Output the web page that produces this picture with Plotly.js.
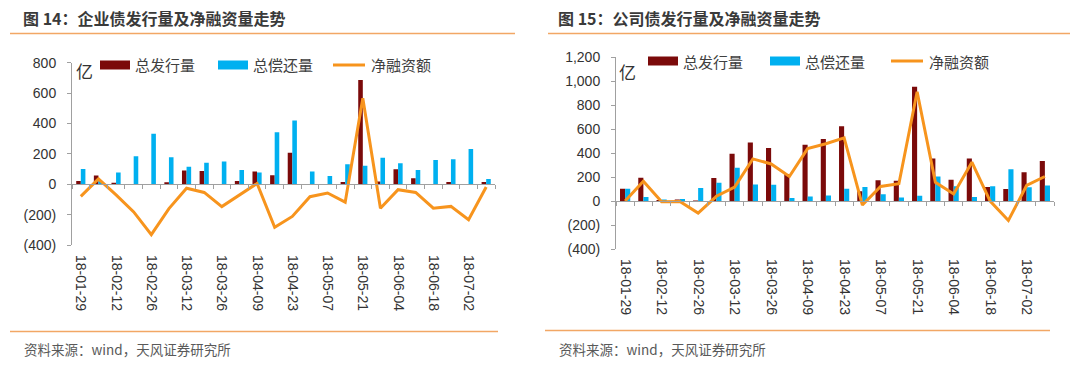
<!DOCTYPE html>
<html><head><meta charset="utf-8">
<script src="https://cdn.plot.ly/plotly-3.0.1.min.js"></script>
<style>html,body{margin:0;padding:0;background:#fff;} #chart{width:1080px;height:369px;}</style>
</head><body><div id="chart"></div>
<script>
// ---- data (weekly, 亿元) ----
const weeks = ['18-01-29','18-02-05','18-02-12','18-02-19','18-02-26','18-03-05','18-03-12','18-03-19',
  '18-03-26','18-04-02','18-04-09','18-04-16','18-04-23','18-04-30','18-05-07','18-05-14',
  '18-05-21','18-05-28','18-06-04','18-06-11','18-06-18','18-06-25','18-07-02','18-07-09'];
const tickWeeks = ['18-01-29','18-02-12','18-02-26','18-03-12','18-03-26','18-04-09',
  '18-04-23','18-05-07','18-05-21','18-06-04','18-06-18','18-07-02'];

// 图14 企业债
const corpIssue = [22, 57, 9, 0, 0, 13, 91, 87, 0, 22, 83, 59, 208, 0, 0, 15, 686, 18, 99, 39, 0, 15, 0, 15];
const corpRepay = [100, 22, 78, 185, 333, 178, 115, 141, 149, 94, 77, 342, 419, 83, 55, 132, 121, 175, 138, 94, 160, 164, 232, 35];
const corpNet   = [-80, 35, -70, -182, -332, -160, -26, -54, -147, -72, 5, -283, -212, -82, -58, -118, 566, -158, -36, -54, -158, -146, -234, -18];

// 图15 公司债
const compIssue = [103, 195, 8, 14, 5, 192, 396, 488, 443, 225, 471, 519, 625, 81, 173, 170, 955, 355, 179, 355, 117, 100, 240, 335];
const compRepay = [103, 33, 14, 17, 109, 153, 279, 139, 137, 25, 39, 47, 103, 117, 56, 30, 45, 205, 123, 35, 123, 265, 115, 131];
const compNet   = [0, 165, -5, -3, -100, 40, 117, 352, 310, 205, 438, 478, 528, -33, 122, 145, 912, 157, 60, 325, 0, -162, 130, 205];

const yTicksL = [-400, -200, 0, 200, 400, 600, 800];
const yTickTextL = ['(400)', '(200)', '0', '200', '400', '600', '800'];
const yTicksR = [-400, -200, 0, 200, 400, 600, 800, 1000, 1200];
const yTickTextR = ['(400)', '(200)', '0', '200', '400', '600', '800', '1,000', '1,200'];

const seriesNames = ['总发行量', '总偿还量', '净融资额'];
const titleL = '图 14：企业债发行量及净融资量走势';
const titleR = '图 15：公司债发行量及净融资量走势';
const sourceText = '资料来源：wind，天风证券研究所';
const unitText = '亿';

// ---- styling ----
const W = 1080, H = 369;
const px = x => x / W, py = y => 1 - y / H;
const RED = '#7B0A0A', BLUE = '#00B0F0', ORANGE = '#F7941D', AXIS = '#A0A0A0', TXT = '#333333';
const SEP = '#F2A765';
const numFont = {family: 'Liberation Sans, Arial, sans-serif', size: 14, color: TXT};
const cjk = 'Noto Sans CJK SC, sans-serif';

const yDomL = [py(245), py(62.7)];
const yDomR = [py(249), py(57.3)];
const zeroL = yDomL[0] + (yDomL[1] - yDomL[0]) * (400 / 1200);
const zeroR = yDomR[0] + (yDomR[1] - yDomR[0]) * (400 / 1600);
const xDomL = [px(72), px(495)];
const xDomR = [px(616), px(1054)];

const bwL = 0.26, bwR = 0.28;
const traces = [
  {type: 'bar', x: weeks, y: corpIssue, name: seriesNames[0], xaxis: 'x', yaxis: 'y',
   marker: {color: RED}, width: bwL, offset: -bwL, showlegend: false, hoverinfo: 'skip'},
  {type: 'bar', x: weeks, y: corpRepay, name: seriesNames[1], xaxis: 'x', yaxis: 'y',
   marker: {color: BLUE}, width: bwL, offset: 0, showlegend: false, hoverinfo: 'skip'},
  {type: 'scatter', mode: 'lines', x: weeks, y: corpNet, name: seriesNames[2], xaxis: 'x2', yaxis: 'y',
   line: {color: ORANGE, width: 3}, showlegend: false, hoverinfo: 'skip'},
  {type: 'bar', x: weeks, y: compIssue, name: seriesNames[0], xaxis: 'x3', yaxis: 'y2',
   marker: {color: RED}, width: bwR, offset: -bwR, showlegend: false, hoverinfo: 'skip'},
  {type: 'bar', x: weeks, y: compRepay, name: seriesNames[1], xaxis: 'x3', yaxis: 'y2',
   marker: {color: BLUE}, width: bwR, offset: 0, showlegend: false, hoverinfo: 'skip'},
  {type: 'scatter', mode: 'lines', x: weeks, y: compNet, name: seriesNames[2], xaxis: 'x4', yaxis: 'y2',
   line: {color: ORANGE, width: 3}, showlegend: false, hoverinfo: 'skip'}
];

function zeroAxis(dom, pos) {
  return {type: 'category', domain: dom, anchor: 'free', position: pos, range: [-0.5, weeks.length - 0.5],
    showline: true, linecolor: AXIS, linewidth: 1, ticks: 'outside', ticklen: 4, tickcolor: AXIS,
    tickson: 'boundaries', tickmode: 'linear', tick0: 0, dtick: 1, showticklabels: false,
    showgrid: false, zeroline: false, fixedrange: true};
}
function labelAxis(base, dom, pos) {
  return {type: 'category', overlaying: base, domain: dom, anchor: 'free', position: pos,
    range: [-0.5, weeks.length - 0.5], showline: false, ticks: '', tickmode: 'array',
    tickvals: tickWeeks, ticktext: tickWeeks, tickangle: 90, tickfont: numFont,
    showgrid: false, zeroline: false, fixedrange: true};
}
function valAxis(anchor, dom, range, vals, text) {
  return {domain: dom, anchor: anchor, range: range, tickmode: 'array', tickvals: vals, ticktext: text,
    showline: true, linecolor: AXIS, linewidth: 1, ticks: 'outside', ticklen: 4, tickcolor: AXIS,
    ticklabelstandoff: 8, tickfont: numFont, showgrid: false, zeroline: false, fixedrange: true};
}

function legendItems(xs, y) {
  const shapes = [
    {type: 'rect', xref: 'paper', yref: 'paper', x0: px(xs[0]), x1: px(xs[0] + 30), y0: py(y + 4.5), y1: py(y - 4.5),
     fillcolor: RED, line: {width: 0}},
    {type: 'rect', xref: 'paper', yref: 'paper', x0: px(xs[1]), x1: px(xs[1] + 30), y0: py(y + 4.5), y1: py(y - 4.5),
     fillcolor: BLUE, line: {width: 0}},
    {type: 'line', xref: 'paper', yref: 'paper', x0: px(xs[2]), x1: px(xs[2] + 32), y0: py(y), y1: py(y),
     line: {color: ORANGE, width: 3}}
  ];
  const offs = [33, 33, 36];
  const anns = seriesNames.map((n, i) => ({xref: 'paper', yref: 'paper', x: px(xs[i] + offs[i]), y: py(y),
    xanchor: 'left', yanchor: 'middle', text: n, showarrow: false,
    font: {family: cjk, size: 15, color: '#404040'}}));
  return {shapes, anns};
}
const legL = legendItems([100, 218, 333], 65);
const legR = legendItems([648, 770, 891], 61);

const sepLines = [[10, 515, 33.5], [10, 498, 331.5], [548, 1070, 33.5], [545, 1050, 330.5]].map(s => ({
  type: 'line', xref: 'paper', yref: 'paper', x0: px(s[0]), x1: px(s[1]), y0: py(s[2]), y1: py(s[2]),
  line: {color: SEP, width: 1.5}}));

const textAnns = [
  {x: px(21), y: py(18), text: '<b>' + titleL + '</b>', font: {family: cjk, size: 16, color: '#3A3A3A'}},
  {x: px(556), y: py(18), text: '<b>' + titleR + '</b>', font: {family: cjk, size: 16, color: '#3A3A3A'}},
  {x: px(22), y: py(349), text: sourceText, font: {family: cjk, size: 13.5, color: '#595959'}},
  {x: px(557), y: py(349), text: sourceText, font: {family: cjk, size: 13.5, color: '#595959'}},
  {x: px(74), y: py(70), text: unitText, font: {family: cjk, size: 17, color: TXT}},
  {x: px(617), y: py(72), text: unitText, font: {family: cjk, size: 17, color: TXT}}
].map(a => Object.assign({xref: 'paper', yref: 'paper', xanchor: 'left', yanchor: 'middle', showarrow: false}, a));

const layout = {
  width: W, height: H, autosize: false,
  margin: {l: 0, r: 0, t: 0, b: 0, pad: 0},
  paper_bgcolor: '#fff', plot_bgcolor: 'rgba(0,0,0,0)',
  barmode: 'overlay', showlegend: false,
  xaxis: zeroAxis(xDomL, zeroL),
  xaxis2: labelAxis('x', xDomL, py(254)),
  xaxis3: zeroAxis(xDomR, zeroR),
  xaxis4: labelAxis('x3', xDomR, py(258)),
  yaxis: valAxis('x', yDomL, [-400, 800], yTicksL, yTickTextL),
  yaxis2: valAxis('x3', yDomR, [-400, 1200], yTicksR, yTickTextR),
  shapes: sepLines.concat(legL.shapes, legR.shapes),
  annotations: textAnns.concat(legL.anns, legR.anns)
};

Plotly.newPlot('chart', traces, layout, {displayModeBar: false, staticPlot: true});
</script></body></html>
